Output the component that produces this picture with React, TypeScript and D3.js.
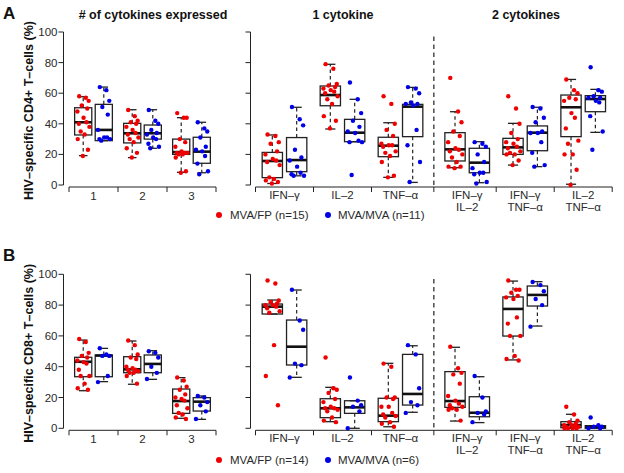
import React from "react";
import * as d3 from "d3";

// ---------- data ----------
const CATS_COUNT = ["1", "2", "3"];
const CATS_CYTO = [["IFN–γ"], ["IL–2"], ["TNF–α"], ["IFN–γ", "IL–2"], ["IFN–γ", "TNF–α"], ["IL–2", "TNF–α"]];
const PANEL_TITLES = ["# of cytokines expressed", "1 cytokine", "2 cytokines"];
const Y_TICKS = [0, 20, 40, 60, 80, 100];
const Y_TITLES = ["HIV–specific CD4+ T–cells (%)", "HIV–specific CD8+ T–cells (%)"];
const LEGEND_A = ["MVA/FP (n=15)", "MVA/MVA (n=11)"];
const LEGEND_B = ["MVA/FP (n=14)", "MVA/MVA (n=6)"];

// box stats: [lowWhisker, q1, median, q3, highWhisker]; order: 1,2,3, IFN, IL2, TNF, IFN/IL2, IFN/TNF, IL2/TNF
const cd4FpBox = [
  [19.2, 32.7, 41, 50.5, 57.7],
  [17.9, 27.5, 33.8, 40.3, 49.2],
  [8.3, 20, 21.5, 30, 44],
  [1, 4.8, 15.7, 21.3, 32.7],
  [36.6, 51.8, 58.8, 64.7, 78.9],
  [5, 18.5, 25.7, 31.2, 40.7],
  [11.3, 15.7, 23.3, 34.2, 47.9],
  [13, 20, 24.6, 30.5, 40.3],
  [0.5, 31.6, 50.8, 58.8, 69],
];
const cd4MvaBox = [
  [29, 29, 36, 52.7, 64],
  [24, 30, 33.8, 39.2, 49.2],
  [8, 14.2, 21.8, 31.2, 41],
  [6, 8.7, 16.3, 31, 50.8],
  [28.3, 28.3, 34.2, 42.9, 56],
  [1.7, 31.6, 51.2, 52.7, 63.8],
  [1.5, 8, 14.6, 24, 28.3],
  [12, 22.4, 34.2, 38.6, 50.8],
  [34.4, 47.9, 56.2, 58.4, 62.5],
];
const cd4FpPoints = [
  [58, 57, 55, 52, 50, 48, 44, 41, 40, 38, 35, 33, 30, 23, 19],
  [49, 45, 42, 41, 40, 38, 36, 34, 33, 31, 30, 28, 24, 21, 18],
  [47, 44, 44, 30, 28, 25, 22, 21, 21, 21, 20, 20, 18, 9, 8],
  [33, 32, 28, 27, 22, 20, 17, 16, 15, 13, 5, 4, 3, 2, 1],
  [79, 76, 66, 65, 64, 63, 62, 61, 60, 58, 56, 53, 45, 42, 37],
  [58, 53, 40, 36, 32, 27, 26, 26, 25, 22, 21, 19, 15, 6, 5],
  [70, 48, 41, 35, 32, 28, 24, 23, 22, 20, 18, 15, 12, 12, 11],
  [58, 50, 40, 34, 30, 28, 27, 25, 24, 22, 21, 20, 20, 16, 13],
  [69, 62, 60, 57, 56, 55, 47, 44, 37, 29, 27, 20, 20, 10, 0],
];
const cd4MvaPoints = [
  [64, 62, 55, 51, 46, 36, 31, 31, 30, 30, 29],
  [49, 42, 40, 36, 34, 33, 31, 30, 27, 25, 24],
  [41, 37, 35, 31, 25, 23, 22, 19, 14, 9, 7],
  [51, 43, 39, 23, 18, 16, 12, 8, 7, 6, 6],
  [67, 56, 47, 42, 38, 35, 34, 29, 28, 28, 6.5],
  [64, 63, 60, 54, 53, 53, 52, 36, 26, 15, 2],
  [28, 27, 25, 20, 15, 11, 8, 8, 7, 2, 1],
  [51, 50, 44, 41, 35, 34, 34, 28, 21, 13, 12],
  [77, 62, 61, 58, 57, 57, 55, 54, 45, 35, 23],
];
const cd8FpBox = [
  [24.4, 33.5, 43.2, 46.1, 57.3],
  [28.6, 36.1, 38.3, 46.5, 56.7],
  [6.5, 9.7, 17.7, 25.5, 32.9],
  [74.2, 74.2, 79, 80.7, 83.3],
  [4.3, 6.9, 13, 19.2, 26.6],
  [1, 4.3, 8.2, 19.5, 42.2],
  [4.7, 13.6, 17.7, 36.8, 52.6],
  [44.4, 59.9, 77.5, 85.3, 95.6],
  [0, 0.4, 2.1, 4.3, 9.1],
];
const cd8MvaBox = [
  [30.3, 33.5, 47.2, 47.6, 51.9],
  [31.8, 36.1, 41.8, 47.6, 50.4],
  [5.8, 11.2, 17.3, 19.9, 21],
  [33.1, 41.1, 53, 70.3, 89.8],
  [0, 9.7, 13.6, 17.9, 17.9],
  [10.4, 15.1, 22.3, 48, 53.6],
  [3.7, 7.5, 10.1, 20.5, 33.5],
  [66.4, 79.4, 86.6, 92.4, 95.2],
  [0, 0, 1, 1.7, 1.7],
];
const cd8FpPoints = [
  [58, 56, 49, 47, 46, 44, 43, 42, 38, 34, 34, 29, 26, 25],
  [57, 54, 48, 46, 45, 40, 39, 38, 38, 37, 36, 36, 34, 29],
  [33, 31, 27, 25, 22, 20, 19, 18, 15, 13, 10, 9, 7, 6],
  [96, 94, 83, 82, 81, 80, 80, 79, 78, 76, 75, 54, 34, 15],
  [46, 26, 25, 23, 19, 17, 14, 13, 13, 12, 11, 7, 5, 4],
  [42, 40, 20, 20, 19, 14, 14, 10, 9, 8, 7, 4, 3, 1],
  [53, 39, 36, 35, 29, 21, 18, 16, 15, 14, 13, 12, 12, 5],
  [96, 90, 90, 88, 86, 85, 84, 72, 68, 60, 60, 47, 45, 44],
  [14, 9, 5, 4, 3, 2, 2, 1, 1, 1, 0, 0, 0, 0],
];
const cd8MvaPoints = [
  [52, 48, 47, 47, 34, 30],
  [50, 49, 46, 40, 36, 32],
  [21, 20, 17, 15, 11, 6],
  [90, 70, 64, 42, 41, 33],
  [33, 18, 15, 14, 11, 0],
  [54, 48, 26, 17, 15, 10],
  [34, 20, 11, 10, 9, 4],
  [95, 93, 89, 84, 80, 66],
  [7, 2, 1, 1, 0, 0],
];

// ---------- style / layout ----------
const RED = "#f00000";
const BLUE = "#0000e6";
const FONT = "'Liberation Sans', Arial, Helvetica, sans-serif";
const TXT = "#2a2a2a";
const JITTER = [-0.55, 0.35, 0.75, -0.2, 0.55, -0.8, 0.05, 0.45, -0.6, 0.85, -0.35, 0.2, -0.75, 0.65, -0.05];
const RIGHT_POS = [1, 2, 3, 4.15, 5.15, 6.15];
const BOX_W = 0.35;
const OFF = 0.21;

type PanelProps = {
  yTop: number;
  yBottom: number;
  fpBox: number[][];
  mvaBox: number[][];
  fpPts: number[][];
  mvaPts: number[][];
  letter: string;
  yTitle: string;
  legend: string[];
  legendY: number;
  showTitles: boolean;
};

function BoxGroup({ x, y, center, unit, box, pts, color }: any) {
  const [lo, q1, med, q3, hi] = box;
  const cx = x(center);
  const hw = (BOX_W * unit) / 2;
  const cap = hw / 2;
  return (
    <g>
      {hi > q3 && (
        <line x1={cx} x2={cx} y1={y(q3)} y2={y(hi)} stroke="#222" strokeWidth={1.2} strokeDasharray="3.5,3" />
      )}
      {lo < q1 && (
        <line x1={cx} x2={cx} y1={y(q1)} y2={y(lo)} stroke="#222" strokeWidth={1.2} strokeDasharray="3.5,3" />
      )}
      <line x1={cx - cap} x2={cx + cap} y1={y(hi)} y2={y(hi)} stroke="#222" strokeWidth={1.3} />
      <line x1={cx - cap} x2={cx + cap} y1={y(lo)} y2={y(lo)} stroke="#222" strokeWidth={1.3} />
      <rect x={cx - hw} y={y(q3)} width={hw * 2} height={Math.max(0, y(q1) - y(q3))} fill="none" stroke="#222" strokeWidth={1.3} />
      <line x1={cx - hw} x2={cx + hw} y1={y(med)} y2={y(med)} stroke="#111" strokeWidth={2.6} />
      {pts.map((v: number, i: number) => (
        <circle key={i} cx={cx + JITTER[i % JITTER.length] * hw * 0.85} cy={y(v)} r={2.2} fill={color} />
      ))}
    </g>
  );
}

function Panel(p: PanelProps) {
  const y = d3.scaleLinear().domain([0, 100]).range([p.yBottom, p.yTop]);
  const xL = d3.scaleLinear().domain([0.5, 3.5]).range([69, 216]);
  const xR = d3.scaleLinear().domain([0.5, 6.65]).range([255.5, 612.2]);
  const unitL = xL(1) - xL(0);
  const unitR = xR(1) - xR(0);
  const axisY = p.yBottom + 2;
  const leftTicks = [0.5, 1.5, 2.5, 3.5];
  const rightTicks = [0.5, 1.5, 2.5, 3.575, 4.65, 5.65, 6.65];
  const sepX = xR(3.575);
  const yAxisL = 63.5;
  const yAxisR = 250.5;
  return (
    <g fontFamily={FONT}>
      <text x={3} y={p.yTop - 13} fontSize={17} fontWeight="bold" fill="#111">{p.letter}</text>
      {p.showTitles && (
        <g fontSize={12.5} fontWeight="bold" fill="#111" textAnchor="middle">
          <text x={153} y={p.yTop - 13}>{PANEL_TITLES[0]}</text>
          <text x={343} y={p.yTop - 13}>{PANEL_TITLES[1]}</text>
          <text x={526} y={p.yTop - 13}>{PANEL_TITLES[2]}</text>
        </g>
      )}
      <text
        transform={`translate(33,${(p.yTop + p.yBottom) / 2 + 2}) rotate(-90)`}
        textAnchor="middle"
        fontSize={12.5}
        fontWeight="bold"
        fill="#111"
      >
        {p.yTitle}
      </text>
      {/* y axes */}
      {[yAxisL, yAxisR].map((ax, k) => (
        <g key={k} stroke="#222" strokeWidth={1}>
          <line x1={ax} x2={ax} y1={y(0)} y2={y(100)} />
          {Y_TICKS.map((t) => (
            <line key={t} x1={ax - 5} x2={ax} y1={y(t)} y2={y(t)} />
          ))}
        </g>
      ))}
      {Y_TICKS.map((t) => (
        <text key={t} x={57.5} y={y(t) + 4} textAnchor="end" fontSize={11.5} fill={TXT}>
          {t}
        </text>
      ))}
      {/* x axes */}
      <g stroke="#222" strokeWidth={1}>
        <line x1={xL(0.5)} x2={xL(3.5)} y1={axisY} y2={axisY} />
        {leftTicks.map((t) => (
          <line key={t} x1={xL(t)} x2={xL(t)} y1={axisY} y2={axisY + 5} />
        ))}
        <line x1={xR(0.5)} x2={xR(6.65)} y1={axisY} y2={axisY} />
        {rightTicks.map((t) => (
          <line key={t} x1={xR(t)} x2={xR(t)} y1={axisY} y2={axisY + 5} />
        ))}
      </g>
      {CATS_COUNT.map((c, i) => (
        <text key={c} x={xL(i + 1)} y={axisY + 13} textAnchor="middle" fontSize={11.5} fill={TXT}>
          {c}
        </text>
      ))}
      {CATS_CYTO.map((lines, i) => (
        <text key={i} x={xR(RIGHT_POS[i])} textAnchor="middle" fontSize={11.5} fill={TXT}>
          {lines.map((l, j) => (
            <tspan key={j} x={xR(RIGHT_POS[i])} y={axisY + 12 + j * 12}>
              {l}
            </tspan>
          ))}
        </text>
      ))}
      {/* separator */}
      <line x1={sepX} x2={sepX} y1={y(97)} y2={y(0)} stroke="#222" strokeWidth={1.2} strokeDasharray="4.5,3.5" />
      {/* boxes */}
      {[0, 1, 2].map((i) => (
        <g key={"l" + i}>
          <BoxGroup x={xL} y={y} center={i + 1 - OFF} unit={unitL} box={p.fpBox[i]} pts={p.fpPts[i]} color={RED} />
          <BoxGroup x={xL} y={y} center={i + 1 + OFF} unit={unitL} box={p.mvaBox[i]} pts={p.mvaPts[i]} color={BLUE} />
        </g>
      ))}
      {RIGHT_POS.map((pos, i) => (
        <g key={"r" + i}>
          <BoxGroup x={xR} y={y} center={pos - OFF} unit={unitR} box={p.fpBox[i + 3]} pts={p.fpPts[i + 3]} color={RED} />
          <BoxGroup x={xR} y={y} center={pos + OFF} unit={unitR} box={p.mvaBox[i + 3]} pts={p.mvaPts[i + 3]} color={BLUE} />
        </g>
      ))}
      {/* legend */}
      <g fontSize={11.5} fill={TXT}>
        <circle cx={219} cy={p.legendY} r={3} fill={RED} />
        <text x={230} y={p.legendY + 4}>{p.legend[0]}</text>
        <circle cx={328} cy={p.legendY} r={3} fill={BLUE} />
        <text x={338} y={p.legendY + 4}>{p.legend[1]}</text>
      </g>
    </g>
  );
}

export default function App() {
  return (
    <svg width={624} height={473} style={{ position: "absolute", left: 0, top: 0, background: "#fff" }}>
      <rect width={624} height={473} fill="#fff" />
      <Panel
        yTop={32}
        yBottom={185}
        fpBox={cd4FpBox}
        mvaBox={cd4MvaBox}
        fpPts={cd4FpPoints}
        mvaPts={cd4MvaPoints}
        letter="A"
        yTitle={Y_TITLES[0]}
        legend={LEGEND_A}
        legendY={215}
        showTitles={true}
      />
      <Panel
        yTop={274.3}
        yBottom={428.3}
        fpBox={cd8FpBox}
        mvaBox={cd8MvaBox}
        fpPts={cd8FpPoints}
        mvaPts={cd8MvaPoints}
        letter="B"
        yTitle={Y_TITLES[1]}
        legend={LEGEND_B}
        legendY={460}
        showTitles={false}
      />
    </svg>
  );
}
